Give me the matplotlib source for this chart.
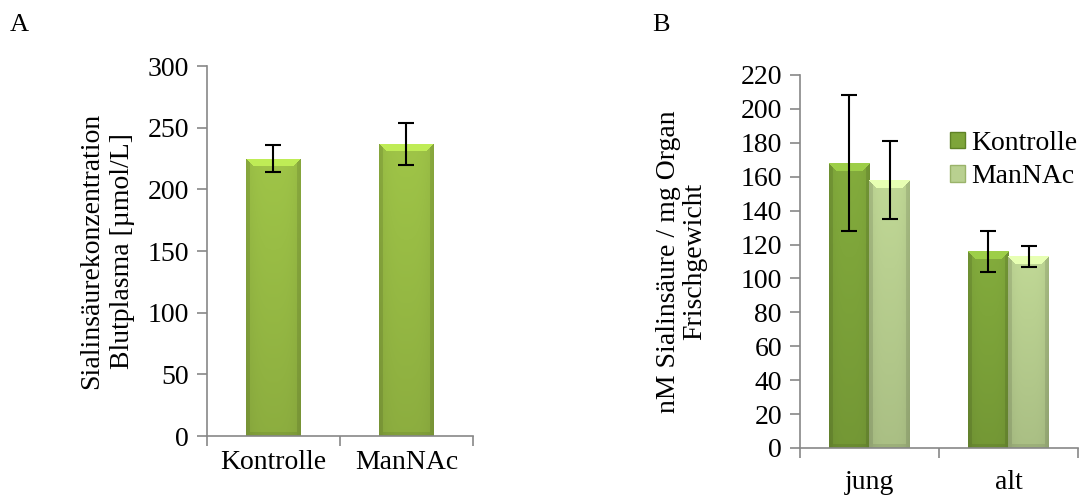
import numpy as np
import matplotlib.pyplot as plt
from matplotlib.patches import Patch
from matplotlib.colors import to_rgb

plt.rcParams['font.family'] = ['Liberation Serif', 'DejaVu Serif']
plt.rcParams['font.size'] = 20

# Panel A: Blutplasma
a_labels = ['Kontrolle', 'ManNAc']
a_values = [225, 237]
a_errors = [11, 17]

# Panel B: Organ
b_groups = ['jung', 'alt']
b_series = ['Kontrolle', 'ManNAc']
b_kontrolle = [168, 116]
b_kontrolle_err = [40, 12]
b_mannac = [158, 113]
b_mannac_err = [23, 6]

col_a = '#99bd45'
col_k = '#7ea53a'
col_m = '#b9d090'
axis_col = '#878787'
DPI = 100


def shade(ax, bars, base):
    # fake the bevelled office-style bars: image clipped to each bar
    fig = ax.figure
    fig.canvas.draw()
    ext = ax.get_window_extent()
    y0, y1 = ax.get_ylim()
    x0l, x1l = ax.get_xlim()
    rgb = np.array(to_rgb(base))
    light = np.clip(rgb * 1.25, 0, 1)
    for b in bars:
        x, w, h = b.get_x(), b.get_width(), b.get_height()
        nx = max(int(w / (x1l - x0l) * ext.width), 2)
        ny = max(int(h / (y1 - y0) * ext.height), 2)
        u = np.linspace(0, 1, nx)
        v = np.linspace(1, 0, ny)  # row 0 = top
        fx = 1.02 - 0.06 * np.abs(2 * u - 1) ** 3
        fy = 0.90 + 0.12 * v
        img = rgb[None, None, :] * (fy[:, None] * fx[None, :])[:, :, None]
        bv = 8
        ii, jj = np.mgrid[0:ny, 0:nx]
        rr = nx - 1 - jj
        bb = ny - 1 - ii
        top = (ii < bv) & (ii <= jj) & (ii <= rr)
        side = (np.minimum(jj, rr) < 4) & ~top
        bottom = (bb < 4) & ~side
        img[top] = light
        img[side] = img[side] * 0.9
        img[bottom] = img[bottom] * 0.92
        img = np.clip(img, 0, 1)
        im = ax.imshow(img, extent=(x, x + w, 0, h), aspect='auto',
                       interpolation='nearest', zorder=2)
        im.set_clip_path(b)
        b.set_facecolor('none')
        b.set_edgecolor('none')
    ax.set_xlim(x0l, x1l)
    ax.set_ylim(y0, y1)


def style(ax, n):
    for s in ['top', 'right']:
        ax.spines[s].set_visible(False)
    for s in ['left', 'bottom']:
        ax.spines[s].set_color(axis_col)
        ax.spines[s].set_linewidth(1.2)
    ax.tick_params(axis='y', color=axis_col, length=7, width=1.2, direction='out', pad=6)
    ax.set_xlim(-0.5, n - 0.5)
    ax.set_xticks(np.arange(n + 1) - 0.5, minor=False, labels=[''] * (n + 1))
    ax.set_xticks(np.arange(n), minor=True)
    ax.tick_params(axis='x', which='major', color=axis_col, length=7, width=1.2)
    ax.tick_params(axis='x', which='minor', length=0, pad=10)


fig = plt.figure(figsize=(10.79, 4.97), dpi=DPI)

axA = fig.add_axes([0.1918, 0.1227, 0.2465, 0.7445])
xa = np.arange(len(a_labels))
barsA = axA.bar(xa, a_values, width=0.41, color=col_a, zorder=2)
axA.errorbar(xa, a_values, yerr=a_errors, fmt='none', ecolor='black',
             elinewidth=1.5, capsize=6, capthick=1.5, zorder=4)
axA.set_ylim(0, 300)
axA.set_yticks(np.arange(0, 301, 50))
style(axA, len(a_labels))
axA.set_xticklabels(a_labels, minor=True)
axA.set_ylabel('Sialinsäurekonzentration\nBlutplasma [µmol/L]', labelpad=9, linespacing=1.3)

axB = fig.add_axes([0.7414, 0.0986, 0.2576, 0.7505])
xb = np.arange(len(b_groups))
w = 0.29
barsK = axB.bar(xb - w / 2, b_kontrolle, width=w, color=col_k, zorder=2)
barsM = axB.bar(xb + w / 2, b_mannac, width=w, color=col_m, zorder=2)
axB.errorbar(xb - w / 2, b_kontrolle, yerr=b_kontrolle_err, fmt='none', ecolor='black',
             elinewidth=1.5, capsize=6, capthick=1.5, zorder=4)
axB.errorbar(xb + w / 2, b_mannac, yerr=b_mannac_err, fmt='none', ecolor='black',
             elinewidth=1.5, capsize=6, capthick=1.5, zorder=4)
axB.set_ylim(0, 220)
axB.set_yticks(np.arange(0, 221, 20))
style(axB, len(b_groups))
axB.set_xticklabels(b_groups, minor=True)
axB.tick_params(axis='x', which='minor', pad=16)
axB.set_ylabel('nM Sialinsäure / mg Organ\nFrischgewicht', labelpad=24, linespacing=1.05)
handles = [Patch(facecolor=col_k, edgecolor='#5f8226'), Patch(facecolor=col_m, edgecolor='#9ab36a')]
axB.legend(handles, b_series, loc='upper left', bbox_to_anchor=(0.5, 0.88), frameon=False,
           handlelength=0.55, handleheight=0.55, handletextpad=0.2, labelspacing=0.3,
           borderaxespad=0, fontsize=20)

shade(axA, barsA, col_a)
shade(axB, barsK, col_k)
shade(axB, barsM, col_m)

fig.text(10 / 1079, 1 - 25 / 497, 'A', fontsize=19, va='center')
fig.text(652 / 1079, 1 - 25 / 497, 'B', fontsize=19, va='center')

fig.savefig('out.png', dpi=DPI)
